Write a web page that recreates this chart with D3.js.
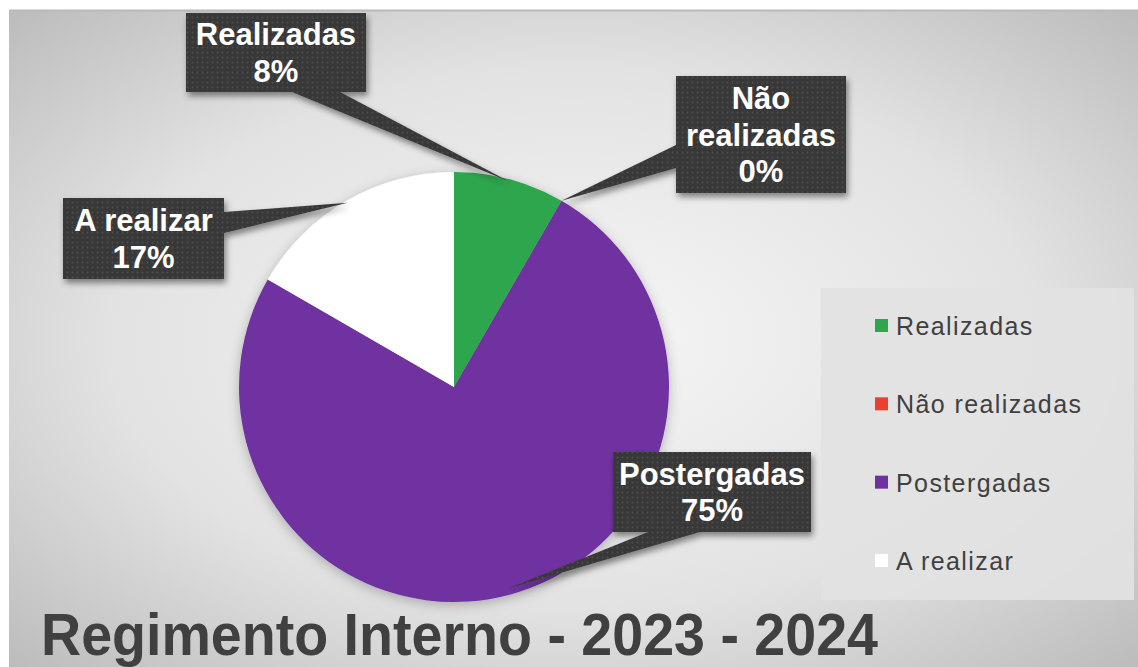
<!DOCTYPE html>
<html>
<head>
<meta charset="utf-8">
<title>Regimento Interno</title>
<script src="https://cdn.jsdelivr.net/npm/d3@7"></script>
<style>
  body { margin: 0; background: #fff; }
  svg { display: block; }
</style>
</head>
<body>
<script>
// data
var categories = ["Realizadas", "Não realizadas", "Postergadas", "A realizar"];
var values = [1, 0, 9, 2];
var colors = ["#2ea64e", "#e8412f", "#7030a0", "#ffffff"];
var title = "Regimento Interno - 2023 - 2024";

var W = 1138, H = 667;
var svg = d3.select("body").append("svg").attr("width", W).attr("height", H);
var defs = svg.append("defs");

// background gradient
var bg = defs.append("radialGradient").attr("id", "bg")
  .attr("cx", "50%").attr("cy", "50%").attr("r", "75%");
bg.append("stop").attr("offset", "0%").attr("stop-color", "#f6f6f6");
bg.append("stop").attr("offset", "55%").attr("stop-color", "#e2e2e2");
bg.append("stop").attr("offset", "100%").attr("stop-color", "#b6b6b6");

var pat = defs.append("pattern").attr("id", "dots")
  .attr("width", 5).attr("height", 5).attr("patternUnits", "userSpaceOnUse");
pat.append("rect").attr("width", 5).attr("height", 5).attr("fill", "#383838");
pat.append("circle").attr("cx", 2.5).attr("cy", 2.5).attr("r", 1).attr("fill", "#4e4e4e");

var sh = defs.append("filter").attr("id", "shadow")
  .attr("x", "-20%").attr("y", "-20%").attr("width", "140%").attr("height", "150%");
sh.append("feDropShadow").attr("dx", 2).attr("dy", 4).attr("stdDeviation", 3)
  .attr("flood-color", "#000").attr("flood-opacity", 0.45);

var pieSh = defs.append("filter").attr("id", "pieshadow")
  .attr("x", "-20%").attr("y", "-20%").attr("width", "140%").attr("height", "140%");
pieSh.append("feDropShadow").attr("dx", 0).attr("dy", 3).attr("stdDeviation", 6)
  .attr("flood-color", "#000").attr("flood-opacity", 0.25);

svg.append("rect").attr("x", 9).attr("y", 10).attr("width", W - 9).attr("height", H - 10)
  .attr("fill", "url(#bg)");
svg.append("line").attr("x1", 9).attr("x2", W).attr("y1", 10.5).attr("y2", 10.5)
  .attr("stroke", "#b9b9b9").attr("stroke-width", 2);

// pie
var cx = 454, cy = 387, r = 215;
var total = d3.sum(values);
var pct = d3.format(".0%");

var pie = d3.pie().sort(null).value(function(d) { return d; });
var arcs = pie(values);
var arc = d3.arc().innerRadius(0).outerRadius(r);

var g = svg.append("g").attr("transform", "translate(" + cx + "," + cy + ")");
g.append("g").attr("filter", "url(#pieshadow)")
  .selectAll("path")
  .data(arcs)
  .enter()
  .append("path")
  .attr("d", arc)
  .attr("fill", function(d, i) { return colors[i]; });

// callouts (box x, y, w, h, and pointer base points)
var callouts = [
  {box: [186, 13, 180, 79], base: [[292, 92], [340, 92]], tipR: 0.99, wrap: false},
  {box: [676, 76, 170, 117], base: [[676, 145], [676, 168]], tipR: 1.0, wrap: true},
  {box: [613, 452, 198, 80], base: [[648, 532], [700, 532]], tipR: 0.97, wrap: false},
  {box: [63, 198, 161, 81], base: [[224, 212], [224, 233]], tipR: 0.99, wrap: false}
];

arcs.forEach(function(d, i) {
  var c = callouts[i];
  var mid = (d.startAngle + d.endAngle) / 2;
  var tx = cx + Math.sin(mid) * r * c.tipR,
      ty = cy - Math.cos(mid) * r * c.tipR;
  var cg = svg.append("g").attr("filter", "url(#shadow)");
  cg.append("path")
    .attr("d", "M" + c.base[0] + "L" + tx + "," + ty + "L" + c.base[1] + "Z")
    .attr("fill", "url(#dots)");
  cg.append("rect")
    .attr("x", c.box[0]).attr("y", c.box[1])
    .attr("width", c.box[2]).attr("height", c.box[3])
    .attr("fill", "url(#dots)");

  var lines = (c.wrap ? categories[i].split(" ") : [categories[i]])
    .concat([pct(values[i] / total)]);
  var lh = 36.5;
  var midY = c.box[1] + c.box[3] / 2;
  var firstBase = midY - (lines.length - 1) * lh / 2 + 11;
  var t = svg.append("text")
    .attr("text-anchor", "middle")
    .attr("font-family", "Liberation Sans, Arial, sans-serif")
    .attr("font-weight", "bold")
    .attr("font-size", 31)
    .attr("fill", "#fff");
  lines.forEach(function(l, j) {
    t.append("tspan")
      .attr("x", c.box[0] + c.box[2] / 2)
      .attr("y", firstBase + j * lh)
      .text(l);
  });
});

// legend
svg.append("rect").attr("x", 821).attr("y", 288).attr("width", 313).attr("height", 312)
  .attr("fill", "#e2e2e2").attr("opacity", 0.9);

var ly = d3.scalePoint().domain(categories).range([326, 561]);
var leg = svg.append("g").selectAll("g")
  .data(categories)
  .enter()
  .append("g")
  .attr("transform", function(d) { return "translate(875," + ly(d) + ")"; });
leg.append("rect")
  .attr("x", 0).attr("y", -7).attr("width", 13).attr("height", 13)
  .attr("fill", function(d, i) { return colors[i]; });
leg.append("text")
  .attr("x", 21).attr("y", 9)
  .attr("font-family", "Liberation Sans, Arial, sans-serif")
  .attr("font-size", 25)
  .attr("letter-spacing", 1.4)
  .attr("fill", "#404040")
  .text(function(d) { return d; });

// title
svg.append("text")
  .attr("x", 41).attr("y", 655)
  .attr("font-family", "Liberation Sans Narrow, Arial Narrow, Liberation Sans, sans-serif")
  .attr("font-weight", "bold")
  .attr("font-size", 59)
  .attr("textLength", 837)
  .attr("lengthAdjust", "spacingAndGlyphs")
  .attr("fill", "#404040")
  .text(title);
</script>
</body>
</html>
